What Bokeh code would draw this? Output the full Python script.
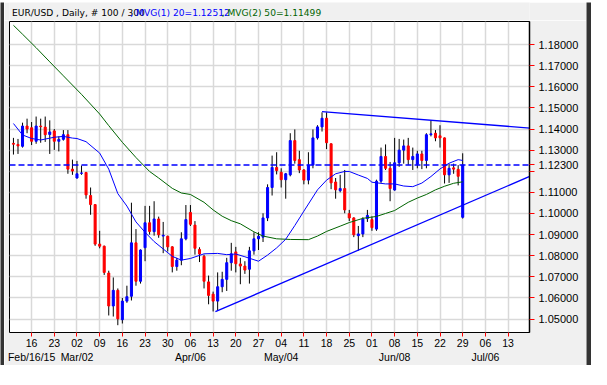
from bokeh.plotting import figure
from bokeh.layouts import column, row
from bokeh.models import (ColumnDataSource, LinearAxis, FixedTicker, Range1d, Span,
                          PrintfTickFormatter, Grid)
from bokeh.core.properties import value
from bokeh.embed import file_html
from bokeh.resources import INLINE

# ---- data (EUR/USD daily, 100 bars from Feb 10 2015 to Jun 29 2015) ----
opens = [1.1332, 1.1327, 1.1318, 1.1414, 1.1406, 1.1342, 1.1414, 1.1409, 1.1374, 1.1391,
         1.1342, 1.1351, 1.1373, 1.1210, 1.1168, 1.1190, 1.1194, 1.1085, 1.1042, 1.0855,
         1.0845, 1.0718, 1.0562, 1.0636, 1.0497, 1.0585, 1.0608, 1.0861, 1.0679, 1.0838,
         1.0956, 1.0914, 1.0974, 1.0893, 1.0892, 1.0842, 1.0749, 1.0779, 1.0880, 1.1005,
         1.0945, 1.0830, 1.0797, 1.0676, 1.0618, 1.0585, 1.0653, 1.0688, 1.0767, 1.0818,
         1.0761, 1.0751, 1.0736, 1.0823, 1.0880, 1.0888, 1.0979, 1.1123, 1.1218, 1.1195,
         1.1160, 1.1183, 1.1345, 1.1255, 1.1206, 1.1158, 1.1229, 1.1358, 1.1410, 1.1451,
         1.1330, 1.1149, 1.1108, 1.1118, 1.0999, 1.0979, 1.0895, 1.0903, 1.0976, 1.0971,
         1.0926, 1.1153, 1.1270, 1.1214, 1.1111, 1.1240, 1.1300, 1.1320, 1.1255, 1.1233,
         1.1282, 1.1251, 1.1373, 1.1380, 1.1368, 1.1358, 1.1183, 1.1216, 1.1209, 1.0982]
highs = [1.1358, 1.1353, 1.1430, 1.1449, 1.1433, 1.1459, 1.1449, 1.1459, 1.1441, 1.1400,
         1.1365, 1.1395, 1.1395, 1.1255, 1.1249, 1.1227, 1.1197, 1.1123, 1.1044, 1.0918,
         1.0848, 1.0729, 1.0697, 1.0645, 1.0600, 1.0658, 1.1051, 1.0926, 1.0830, 1.1036,
         1.1036, 1.1058, 1.0985, 1.0960, 1.0895, 1.0845, 1.0790, 1.0911, 1.1040, 1.1040,
         1.0964, 1.0840, 1.0805, 1.0706, 1.0630, 1.0721, 1.0724, 1.0790, 1.0861, 1.0842,
         1.0790, 1.0774, 1.0842, 1.0911, 1.0911, 1.1001, 1.1138, 1.1274, 1.1290, 1.1214,
         1.1192, 1.1380, 1.1398, 1.1297, 1.1210, 1.1290, 1.1398, 1.1418, 1.1479, 1.1479,
         1.1332, 1.1168, 1.1183, 1.1206, 1.1017, 1.0982, 1.0941, 1.0982, 1.1017, 1.0986,
         1.1160, 1.1312, 1.1327, 1.1244, 1.1358, 1.1353, 1.1350, 1.1358, 1.1312, 1.1297,
         1.1297, 1.1380, 1.1441, 1.1395, 1.1418, 1.1360, 1.1236, 1.1236, 1.1229, 1.1285]
lows = [1.1279, 1.1282, 1.1312, 1.1380, 1.1324, 1.1330, 1.1335, 1.1339, 1.1282, 1.1301,
        1.1294, 1.1345, 1.1188, 1.1183, 1.1165, 1.1183, 1.1070, 1.0994, 1.0847, 1.0835,
        1.0709, 1.0517, 1.0512, 1.0471, 1.0479, 1.0577, 1.0588, 1.0658, 1.0668, 1.0774,
        1.0900, 1.0895, 1.0885, 1.0812, 1.0820, 1.0721, 1.0729, 1.0755, 1.0873, 1.0941,
        1.0805, 1.0770, 1.0645, 1.0570, 1.0536, 1.0542, 1.0627, 1.0633, 1.0729, 1.0721,
        1.0665, 1.0714, 1.0668, 1.0805, 1.0827, 1.0865, 1.0964, 1.1085, 1.1185, 1.1123,
        1.1070, 1.1176, 1.1236, 1.1191, 1.1138, 1.1138, 1.1214, 1.1350, 1.1388, 1.1305,
        1.1115, 1.1070, 1.1100, 1.1001, 1.0964, 1.0888, 1.0824, 1.0888, 1.0960, 1.0918,
        1.0918, 1.1145, 1.1206, 1.1058, 1.1108, 1.1221, 1.1236, 1.1229, 1.1206, 1.1214,
        1.1210, 1.1214, 1.1365, 1.1342, 1.1312, 1.1142, 1.1145, 1.1188, 1.1133, 1.0976]
closes = [1.1328, 1.1320, 1.1414, 1.1400, 1.1342, 1.1414, 1.1411, 1.1373, 1.1386, 1.1342,
          1.1351, 1.1373, 1.1210, 1.1201, 1.1188, 1.1192, 1.1088, 1.1042, 1.0855, 1.0845,
          1.0721, 1.0562, 1.0636, 1.0501, 1.0585, 1.0606, 1.0861, 1.0679, 1.0827, 1.0956,
          1.0915, 1.0974, 1.0899, 1.0897, 1.0842, 1.0749, 1.0779, 1.0880, 1.0971, 1.0949,
          1.0835, 1.0808, 1.0679, 1.0612, 1.0585, 1.0653, 1.0688, 1.0767, 1.0809, 1.0762,
          1.0751, 1.0732, 1.0823, 1.0880, 1.0892, 1.0979, 1.1123, 1.1218, 1.1203, 1.1160,
          1.1188, 1.1345, 1.1251, 1.1206, 1.1158, 1.1229, 1.1358, 1.1410, 1.1451, 1.1335,
          1.1145, 1.1112, 1.1118, 1.1017, 1.0979, 1.0899, 1.0903, 1.0974, 1.0991, 1.0933,
          1.1153, 1.1270, 1.1214, 1.1118, 1.1240, 1.1300, 1.1320, 1.1255, 1.1270, 1.1282,
          1.1251, 1.1373, 1.1377, 1.1358, 1.1358, 1.1183, 1.1214, 1.1210, 1.1176, 1.1230]

# moving averages (bar index, value)
ma20_idx = [0, 2, 4, 6, 9, 11, 13, 14, 16, 19, 21, 23, 25, 27, 29, 31, 33, 35, 37, 39,
            42, 45, 47, 49, 51, 54, 56, 58, 60, 62, 64, 67, 69, 71, 73, 74, 76, 78, 79,
            82, 84, 86, 88, 90, 92, 94, 96, 98, 99]
ma20_val = [1.1426, 1.1372, 1.1355, 1.1348, 1.1361, 1.1365, 1.1357, 1.1355, 1.1340, 1.1286,
            1.1210, 1.1094, 1.1035, 1.0960, 1.0911, 1.0867, 1.0832, 1.0797, 1.0779, 1.0787,
            1.0809, 1.0811, 1.0805, 1.0808, 1.0795, 1.0774, 1.0803, 1.0837, 1.0878, 1.0943,
            1.1011, 1.1112, 1.1158, 1.1188, 1.1199, 1.1199, 1.1182, 1.1166, 1.1148,
            1.1140, 1.1140, 1.1130, 1.1127, 1.1144, 1.1175, 1.1211, 1.1238, 1.1255, 1.1251]
ma50_idx = [0, 2, 5, 8, 11, 15, 19, 21, 24, 27, 30, 32, 35, 37, 39, 42, 44, 46, 48, 50,
            53, 55, 58, 61, 65, 67, 69, 72, 74, 77, 80, 82, 84, 87, 89, 91, 93, 95, 97, 99]
ma50_val = [1.1891, 1.1849, 1.1785, 1.1718, 1.1652, 1.1564, 1.1471, 1.1416, 1.1337, 1.1265,
            1.1199, 1.1168, 1.1119, 1.1097, 1.1090, 1.1053, 1.1017, 1.0987, 1.0966, 1.0951,
            1.0913, 1.0893, 1.0880, 1.0877, 1.0876, 1.0893, 1.0915, 1.0940, 1.0957, 1.0977,
            1.0986, 1.1000, 1.1014, 1.1053, 1.1073, 1.1090, 1.1112, 1.1129, 1.1143, 1.1150]

# trend lines (bar index, price)
trend_up_idx = [68, 114]
trend_up_val = [1.1482, 1.1404]
trend_lo_idx = [44.5, 114]
trend_lo_val = [1.0535, 1.1178]

last_close = 1.123

week_tick_idx = [4, 9, 14, 19, 24, 29, 34, 39, 44, 49, 54, 59, 64, 69, 74, 79, 84, 89,
                 94, 99, 104, 109]
week_tick_labels = ["16", "23", "02", "09", "16", "23", "30", "06", "13", "20", "27",
                    "04", "11", "18", "25", "01", "08", "15", "22", "29", "06", "13"]
month_tick_idx = [4, 14, 39, 59, 84, 104]
month_tick_labels = ["Feb/16/15", "Mar/02", "Apr/06", "May/04", "Jun/08", "Jul/06"]
price_ticks = [1.05, 1.06, 1.07, 1.08, 1.09, 1.10, 1.11, 1.12, 1.13, 1.14, 1.15, 1.16,
               1.17, 1.18]

header_texts = ["EUR/USD , Daily, # 100 / 300", ", MVG(1) 20=1.12512", ", MVG(2) 50=1.11499"]
header_colors = ["black", "#0000ff", "#006400"]

FONT = "Arial, 'Liberation Sans', sans-serif"
HDR_FONT = "DejaVu Sans"
BLUE = "#0000ff"
RED = "#ff0000"
GRAY_BG = "#f0f0f0"
DARK = "#333333"

TOTAL_W, TOTAL_H = 591, 369
BL, BR, BT, BB = 4, 5, 2, 4          # dark outer frame
INNER_W = TOTAL_W - BL - BR
INNER_H = TOTAL_H - BT - BB
HDR_H = 18


def strip(w, h):
    return figure(width=w, height=h, output_backend="svg", toolbar_location=None,
                  x_axis_type=None, y_axis_type=None,
                  min_border_left=0, min_border_right=0, min_border_top=0, min_border_bottom=0,
                  border_fill_color=DARK, background_fill_color=DARK, outline_line_color=None)


# ---- header strip ----
hdr = figure(width=INNER_W, height=HDR_H, output_backend="svg", toolbar_location=None,
             x_range=Range1d(0, INNER_W), y_range=Range1d(0, HDR_H),
             x_axis_type=None, y_axis_type=None,
             min_border_left=0, min_border_right=0, min_border_top=0, min_border_bottom=0,
             border_fill_color=GRAY_BG, background_fill_color=GRAY_BG,
             outline_line_color=None)
hdr.text(x=[2.8, 135.2, 237.5], y=[7.5, 7.5, 7.5], text=header_texts,
         text_color=header_colors, text_font=value(HDR_FONT), text_font_size="9.1px",
         text_baseline="middle", text_align="left")

# ---- main chart ----
y0, y1 = 1.04364, 1.19091
p = figure(width=INNER_W, height=INNER_H - HDR_H, output_backend="svg", toolbar_location=None,
           x_range=Range1d(-0.87, 113.72), y_range=Range1d(y0, y1),
           x_axis_type=None, y_axis_type=None,
           min_border_left=5, min_border_right=57, min_border_top=1, min_border_bottom=33,
           border_fill_color=GRAY_BG, background_fill_color="white",
           outline_line_color="black", outline_line_width=1)

grid_col = "#d9d9d9"
p.add_layout(Grid(dimension=0, ticker=FixedTicker(ticks=week_tick_idx),
                  grid_line_color=grid_col, grid_line_width=1.5))
p.add_layout(Grid(dimension=1, ticker=FixedTicker(ticks=price_ticks),
                  grid_line_color=grid_col, grid_line_width=1.5))

xaxis = LinearAxis(ticker=FixedTicker(ticks=week_tick_idx),
                   major_label_overrides=dict(zip(week_tick_idx, week_tick_labels)),
                   major_tick_out=4, major_tick_in=0, major_tick_line_color=RED,
                   minor_tick_line_color=None, axis_line_color=None,
                   major_label_standoff=2, major_label_text_font=FONT,
                   major_label_text_font_size="10.5px", major_label_text_color="black")
p.add_layout(xaxis, "below")
maxis = LinearAxis(ticker=FixedTicker(ticks=month_tick_idx),
                   major_label_overrides=dict(zip(month_tick_idx, month_tick_labels)),
                   major_tick_out=0, major_tick_in=0, major_tick_line_color=None,
                   minor_tick_line_color=None, axis_line_color=None,
                   major_label_standoff=1, major_label_text_font=FONT,
                   major_label_text_font_size="10.5px", major_label_text_color="black")
p.add_layout(maxis, "below")

# price axis; the last close replaces the hidden 1.12000 label as in the original
yaxis = LinearAxis(ticker=FixedTicker(ticks=price_ticks + [last_close]),
                   formatter=PrintfTickFormatter(format="%.5f"),
                   major_label_overrides={1.12: "", last_close: "%.5f" % last_close},
                   major_tick_out=5, major_tick_in=0, major_tick_line_color=RED,
                   minor_tick_line_color=None, axis_line_color="black", axis_line_width=1.5,
                   major_label_standoff=4, major_label_text_font=FONT,
                   major_label_text_font_size="11px", major_label_text_color="black")
p.add_layout(yaxis, "right")

# candles
idx = list(range(len(closes)))
src = ColumnDataSource(dict(
    x=idx, o=opens, h=highs, l=lows, c=closes,
    top=[max(a, b) for a, b in zip(opens, closes)],
    bottom=[min(a, b) for a, b in zip(opens, closes)],
    color=[BLUE if c >= o else RED for o, c in zip(opens, closes)],
))
p.segment(x0="x", y0="l", x1="x", y1="h", source=src, line_color="black", line_width=1)
p.vbar(x="x", width=0.45, top="top", bottom="bottom", source=src,
       fill_color="color", line_color="color", line_width=1)

# moving averages
p.line(ma50_idx, ma50_val, line_color="#006400", line_width=1)
p.line(ma20_idx, ma20_val, line_color=BLUE, line_width=1)

# trend lines
p.line(trend_up_idx, trend_up_val, line_color=BLUE, line_width=1.3)
p.line(trend_lo_idx, trend_lo_val, line_color=BLUE, line_width=1.3)

# last close line
p.add_layout(Span(location=last_close, dimension="width", line_color=BLUE,
                  line_dash="6 3", line_width=1.5))

inner = column(hdr, p, spacing=0)
layout = column(strip(TOTAL_W, BT),
                row(strip(BL, INNER_H), inner, strip(BR, INNER_H), spacing=0),
                strip(TOTAL_W, BB), spacing=0)
open("out.html", "w").write(file_html(layout, INLINE))
